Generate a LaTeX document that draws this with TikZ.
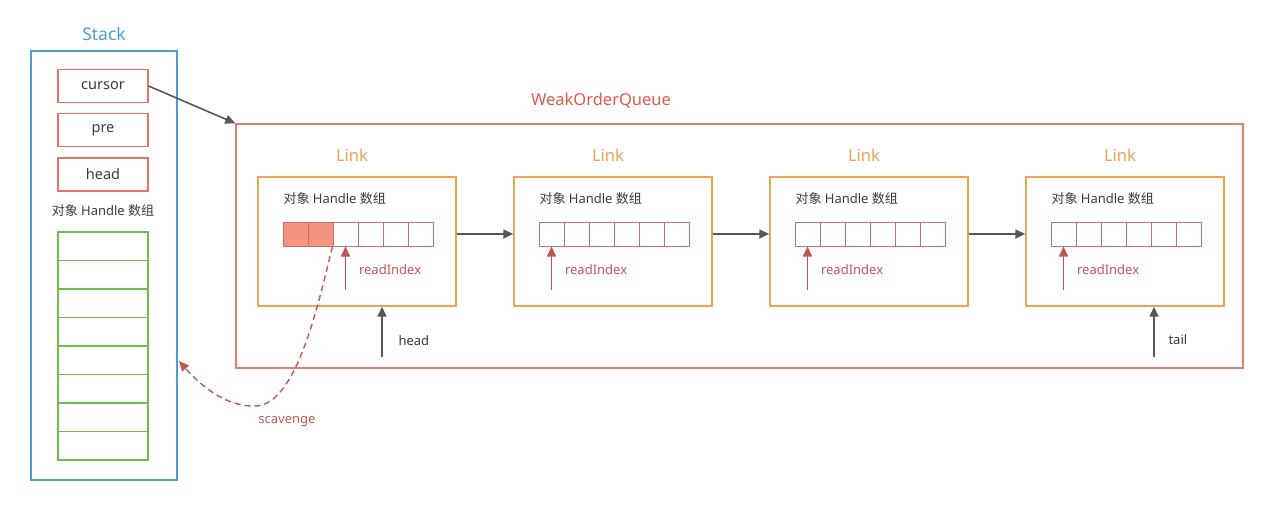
\documentclass[tikz,border=0pt]{standalone}
\usepackage{fontspec}
\setmainfont{Noto Sans}
\newfontfamily\cjk{Noto Sans CJK SC}
\usetikzlibrary{positioning,arrows.meta}

\definecolor{stackblue}{HTML}{4A9FD0}
\definecolor{boxred}{HTML}{E07468}
\definecolor{queuered}{HTML}{E05A4A}
\definecolor{linkorange}{HTML}{F0A24E}
\definecolor{cellgreen}{HTML}{6DBE4B}
\definecolor{arrowgray}{HTML}{55565E}
\definecolor{idxred}{HTML}{C05555}
\definecolor{usedfill}{HTML}{F4937E}
\definecolor{textgray}{HTML}{3A3A3A}

\newcommand{\handlearr}{{\cjk 对象} Handle {\cjk 数组}}

\tikzset{
  field/.style={draw=boxred, line width=1.2pt, minimum width=90pt, minimum height=33pt,
    font=\fontsize{14.5}{17}\selectfont, text=textgray},
  slot/.style={draw=cellgreen, line width=1.8pt, minimum width=90pt, minimum height=28.5pt},
  linkbox/.style={draw=linkorange, line width=1.4pt, minimum width=198pt, minimum height=129pt},
  cell/.style={draw=idxred!85, line width=1pt, minimum width=25pt, minimum height=24pt, inner sep=0pt},
  title/.style={font=\fontsize{16.5}{19}\selectfont},
  lbl/.style={font=\fontsize{13}{15}\selectfont, text=textgray},
  ptr/.style={-{Triangle[length=10pt,width=9pt]}, line width=1.6pt, draw=arrowgray},
  idx/.style={-{Triangle[length=10pt,width=9pt]}, line width=1.6pt, draw=idxred},
}

\begin{document}
\begin{tikzpicture}[x=1pt,y=-1pt]
\useasboundingbox (0,0) rectangle (1276,523);

% stack
\node[draw=stackblue, line width=1.4pt, minimum width=146pt, minimum height=429pt] (stack) at (104,265.5) {};
\node[title, text=stackblue, font=\fontsize{17.5}{20}\selectfont] (stacktitle) at (104,34) {Stack};
\node[field] (cursor) at (103,86) {cursor};
\node[field, below=10pt of cursor] (pre) {pre};
\node[field, below=10pt of pre] (shead) {head};
\node[lbl] (stacklbl) at (103,211) {\handlearr};
\foreach \i in {0,...,7}
  \node[slot] (s\i) at (103,246.25+\i*28.5) {};

% weak order queue
\node[draw=queuered!80, line width=1.4pt, minimum width=1007pt, minimum height=244pt] (wq) at (739.5,246) {};
\node[title, text=queuered] (wqtitle) at (601,101) {WeakOrderQueue};

\foreach \n/\x/\k in {1/357/2,2/613/0,3/869/0,4/1125/0} {
  \node[linkbox] (link\n) at (\x,241.5) {};
  \node[title, text=linkorange] (lt\n) at (\x-5,155) {Link};
  \node[lbl, anchor=west] (ll\n) at (\x-77,199) {\handlearr};
  \foreach \i in {0,...,5}
    \node[cell] (c\n-\i) at (\x-61.5+25*\i,234) {};
  \coordinate (r\n) at (\x-61.5+25*\k,290);
  \draw[idx] (r\n) -- (c\n-\k.south);
  \node[lbl, text=idxred, anchor=west] (ri\n) at (\x-61.5+25*\k+10,270) {readIndex};
}
\foreach \i in {0,1}
  \node[cell, fill=usedfill] at (c1-\i) {};

\draw[ptr] (link1.east |- c1-5.center) -- (link2.west |- c1-5.center);
\draw[ptr] (link2.east |- c2-5.center) -- (link3.west |- c2-5.center);
\draw[ptr] (link3.east |- c3-5.center) -- (link4.west |- c3-5.center);

\coordinate (hd) at (382,357);
\draw[ptr] (hd) -- (hd |- link1.south);
\node[lbl, anchor=west] (hdl) at (395,341) {head};
\coordinate (tl) at (1154,357);
\draw[ptr] (tl) -- (tl |- link4.south);
\node[lbl, anchor=west] (tll) at (1165,340) {tail};

\draw[ptr] (cursor.east) -- (wq.north west);

% scavenge
\coordinate (sv) at (179,361);
\draw[idx, line width=1.4pt, dash pattern=on 6pt off 4pt] (c1-2.south west)
  .. controls (320,295) and (298,406) .. (255,406)
  .. controls (226,407) and (200,385) .. (sv);
\node[lbl, text=idxred] (svl) at (287,422) {scavenge};
\end{tikzpicture}
\end{document}
